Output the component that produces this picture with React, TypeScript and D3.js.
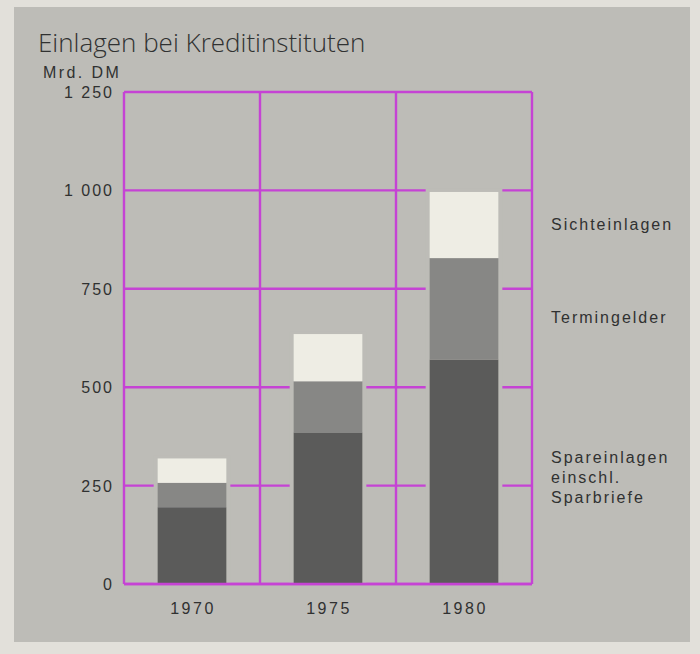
import { useMemo } from 'react';
import * as d3 from 'd3';

const years = ['1970', '1975', '1980'];
const spareinlagen = [195, 385, 570];
const termingelder = [62, 130, 258];
const sichteinlagen = [62, 120, 168];
const yTicks = [0, 250, 500, 750, 1000, 1250];
const seriesKeys = ['spare', 'termin', 'sicht'];
const seriesColors: Record<string, string> = {
  spare: '#5b5b5a',
  termin: '#878785',
  sicht: '#eeede4',
};

const W = 700;
const H = 654;
const margin = { top: 92, right: 168, bottom: 70, left: 124 };
const LINE = '#c543d4';
const INK = '#303131';
const PANEL = '#bdbcb7';
const SANS = "'Liberation Sans', Arial, sans-serif";

export default function App() {
  const { x, y, stacked } = useMemo(() => {
    const x = d3.scaleBand<string>().domain(years).range([margin.left, W - margin.right]).padding(0);
    const y = d3.scaleLinear().domain([0, 1250]).range([H - margin.bottom, margin.top]);
    const rows = years.map((yr, i) => ({
      year: yr,
      spare: spareinlagen[i],
      termin: termingelder[i],
      sicht: sichteinlagen[i],
    }));
    const stacked = d3.stack<any>().keys(seriesKeys)(rows);
    return { x, y, stacked };
  }, []);

  const barW = x.bandwidth() * 0.505;
  const x0 = margin.left;
  const x1 = W - margin.right;
  const y0 = y(0);
  const fmt = (v: number) => d3.format(',')(v).replace(',', ' ');

  return (
    <svg width={W} height={H} style={{ position: 'absolute', left: 0, top: 0 }}>
      <rect x={0} y={0} width={W} height={H} fill="#e2e0da" />
      <rect x={14} y={7} width={676} height={635} fill={PANEL} />
      <text x={38} y={52} fontFamily="'Open Sans', Lato, sans-serif" fontWeight={300} fontSize={26} fill={INK}>
        Einlagen bei Kreditinstituten
      </text>
      <text x={43} y={78} fontFamily={SANS} fontSize={16} fill={INK} letterSpacing={2.4}>
        Mrd. DM
      </text>

      {/* gridlines */}
      {yTicks.map((t) => (
        <line key={t} x1={x0} x2={x1} y1={y(t)} y2={y(t)} stroke={LINE} strokeWidth={2.4} />
      ))}
      {[...years.map((d) => x(d) ?? 0), x1].map((px, i) => (
        <line key={i} x1={px} x2={px} y1={y(1250)} y2={y0} stroke={LINE} strokeWidth={2.4} />
      ))}

      {/* bars with a panel-coloured halo that breaks the gridlines */}
      {years.map((yr, i) => {
        const cx = (x(yr) ?? 0) + x.bandwidth() / 2;
        const top = y(stacked[stacked.length - 1][i][1]);
        return (
          <rect key={yr} x={cx - barW / 2 - 4} y={top - 3} width={barW + 8} height={y0 - top + 1.5} fill={PANEL} />
        );
      })}
      {stacked.map((s) =>
        s.map((d, i) => {
          const cx = (x(years[i]) ?? 0) + x.bandwidth() / 2;
          return (
            <rect
              key={s.key + i}
              x={cx - barW / 2}
              y={y(d[1])}
              width={barW}
              height={y(d[0]) - y(d[1])}
              fill={seriesColors[s.key]}
            />
          );
        })
      )}
      <line x1={x0} x2={x1} y1={y0} y2={y0} stroke={LINE} strokeWidth={2.4} />

      {/* y labels */}
      {yTicks.map((t) => (
        <text
          key={t}
          x={114}
          y={y(t) + 6}
          textAnchor="end"
          fontFamily={SANS}
          fontSize={16}
          fill={INK}
          letterSpacing={2}
        >
          {fmt(t)}
        </text>
      ))}
      {/* x labels */}
      {years.map((yr) => (
        <text
          key={yr}
          x={(x(yr) ?? 0) + x.bandwidth() / 2 + 1}
          y={y0 + 30}
          textAnchor="middle"
          fontFamily={SANS}
          fontSize={16}
          fill={INK}
          letterSpacing={2.5}
        >
          {yr}
        </text>
      ))}

      {/* series labels */}
      <g fontFamily={SANS} fontSize={16} fill={INK} letterSpacing={2}>
        <text x={551} y={230}>Sichteinlagen</text>
        <text x={551} y={323}>Termingelder</text>
        <text x={551} y={463}>Spareinlagen</text>
        <text x={551} y={483}>einschl.</text>
        <text x={551} y={503}>Sparbriefe</text>
      </g>
    </svg>
  );
}
